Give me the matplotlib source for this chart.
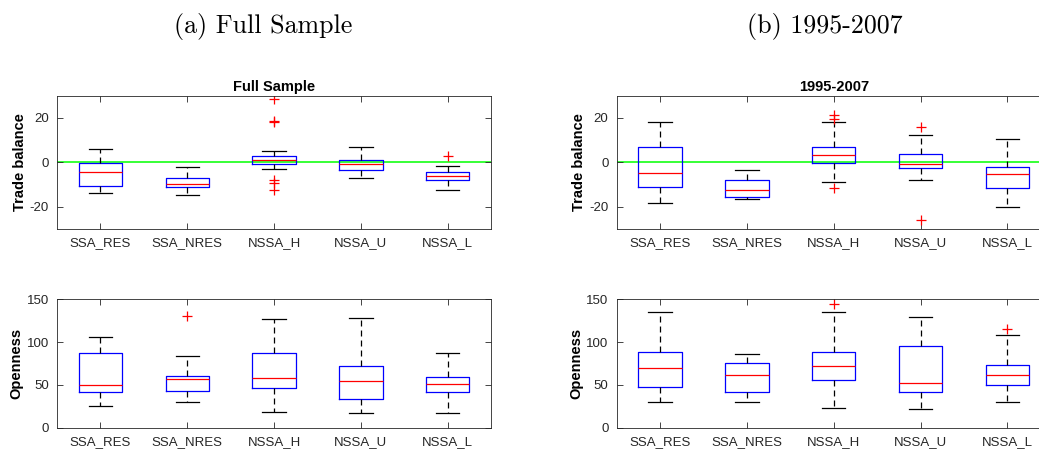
import matplotlib
matplotlib.use("Agg")
from matplotlib import pyplot as plt

groups = ['SSA_RES', 'SSA_NRES', 'NSSA_H', 'NSSA_U', 'NSSA_L']

# Trade balance, full sample: whislo, q1, median, q3, whishi
tb_full_lo = [-13.9, -14.8, -3.1, -7.0, -12.4]
tb_full_q1 = [-10.9, -11.2, -0.9, -3.4, -7.9]
tb_full_med = [-4.2, -9.7, 0.9, -1.0, -6.0]
tb_full_q3 = [-0.4, -7.2, 2.8, 0.9, -4.2]
tb_full_hi = [6.1, -2.1, 5.2, 6.9, -1.5]
tb_full_out = [[], [], [28.4, 18.7, 18.0, -8.0, -9.3, -12.3], [], [2.7]]

# Trade balance, 1995-2007
tb_sub_lo = [-18.2, -16.6, -8.7, -8.1, -20.0]
tb_sub_q1 = [-11.0, -15.5, -0.3, -2.7, -11.6]
tb_sub_med = [-4.8, -12.4, 3.1, -0.9, -5.4]
tb_sub_q3 = [7.0, -7.9, 7.0, 3.6, -2.2]
tb_sub_hi = [18.2, -3.6, 18.2, 12.4, 10.3]
tb_sub_out = [[], [], [21.3, 19.4, -11.5], [15.7, -26.0], []]

# Openness, full sample
op_full_lo = [25.7, 30.0, 17.9, 17.5, 16.8]
op_full_q1 = [42.1, 43.2, 46.0, 33.5, 41.3]
op_full_med = [49.9, 56.5, 57.7, 54.1, 51.4]
op_full_q3 = [86.9, 60.8, 87.3, 72.1, 59.6]
op_full_hi = [106.0, 84.1, 127.0, 128.2, 87.7]
op_full_out = [[], [130.1], [], [], []]

# Openness, 1995-2007
op_sub_lo = [30.0, 30.4, 23.0, 22.2, 30.0]
op_sub_q1 = [47.1, 42.1, 55.3, 41.3, 49.9]
op_sub_med = [69.7, 61.6, 71.7, 52.6, 61.9]
op_sub_q3 = [88.0, 76.0, 88.8, 95.8, 73.2]
op_sub_hi = [135.6, 86.5, 135.6, 129.3, 108.3]
op_sub_out = [[], [], [144.1], [], [115.3]]

plt.rcParams['font.family'] = ['Liberation Sans', 'DejaVu Sans']
plt.rcParams['lines.scale_dashes'] = False
plt.rcParams['axes.unicode_minus'] = False
grey = '#262626'


def make_stats(lo, q1, med, q3, hi, out):
    stats = []
    for i in range(len(groups)):
        stats.append({'whislo': lo[i], 'q1': q1[i], 'med': med[i], 'q3': q3[i],
                      'whishi': hi[i], 'fliers': out[i], 'label': groups[i]})
    return stats


def draw(ax, stats, ylim, yticks, ylabel, title=None, zero_line=False):
    if zero_line:
        ax.axhline(0, color='#00ff00', lw=1.1, zorder=1)
    ax.bxp(stats, widths=0.5, capwidths=0.27, patch_artist=False,
           boxprops=dict(color='blue', lw=0.9),
           medianprops=dict(color='red', lw=0.9),
           whiskerprops=dict(color='black', lw=0.9, linestyle=(0, (4.3, 2.9))),
           capprops=dict(color='black', lw=0.9),
           flierprops=dict(marker='+', markeredgecolor='red', markersize=7, markeredgewidth=0.9),
           zorder=2)
    ax.set_xlim(0.5, 5.5)
    ax.set_ylim(*ylim)
    ax.set_yticks(yticks)
    ax.set_xticks(range(1, 6))
    ax.set_xticklabels(groups)
    ax.tick_params(direction='in', length=4, width=0.6, colors=grey, labelsize=9.5,
                   top=True, right=True, pad=6)
    ax.tick_params(axis='x', pad=6)
    for s in ax.spines.values():
        s.set_color(grey)
        s.set_linewidth(0.6)
    ax.set_ylabel(ylabel, fontsize=10.5, fontweight='bold', labelpad=2)
    if title:
        ax.set_title(title, fontsize=10.5, fontweight='bold', pad=3)


fig = plt.figure(figsize=(10.39, 4.49), dpi=100)

ax1 = fig.add_axes([0.0549, 0.49, 0.4177, 0.2973])
ax2 = fig.add_axes([0.0549, 0.0474, 0.4177, 0.286])
ax3 = fig.add_axes([0.5936, 0.49, 0.4177, 0.2973])
ax4 = fig.add_axes([0.5936, 0.0474, 0.4177, 0.286])

draw(ax1, make_stats(tb_full_lo, tb_full_q1, tb_full_med, tb_full_q3, tb_full_hi, tb_full_out),
     (-30, 30), [-20, 0, 20], 'Trade balance', 'Full Sample', zero_line=True)
draw(ax2, make_stats(op_full_lo, op_full_q1, op_full_med, op_full_q3, op_full_hi, op_full_out),
     (0, 150), [0, 50, 100, 150], 'Openness')
draw(ax3, make_stats(tb_sub_lo, tb_sub_q1, tb_sub_med, tb_sub_q3, tb_sub_hi, tb_sub_out),
     (-30, 30), [-20, 0, 20], 'Trade balance', '1995-2007', zero_line=True)
draw(ax4, make_stats(op_sub_lo, op_sub_q1, op_sub_med, op_sub_q3, op_sub_hi, op_sub_out),
     (0, 150), [0, 50, 100, 150], 'Openness')

# sub-figure captions
fig.text(263.5 / 1039, 1 - 26 / 449, '(a) Full Sample', family='cmr10', fontsize=18.7,
         ha='center', va='center')
fig.text(825 / 1039, 1 - 26 / 449, '(b) 1995-2007', family='cmr10', fontsize=18.7,
         ha='center', va='center')

fig.savefig('out.png', dpi=100)
